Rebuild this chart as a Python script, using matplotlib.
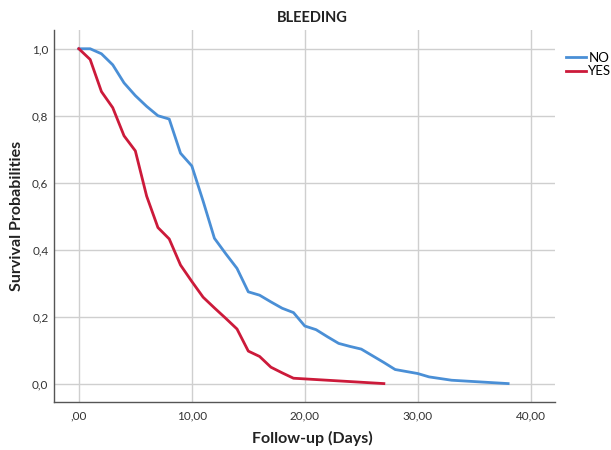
import matplotlib
matplotlib.use("Agg")
import matplotlib.pyplot as plt
from matplotlib.ticker import FixedLocator, FixedFormatter

# Data
no_days = [0, 1, 2, 3, 4, 5, 6, 7, 8, 9, 10, 11, 12, 13, 14, 15, 16, 17, 18, 19,
           20, 21, 22, 23, 24, 25, 26, 27, 28, 29, 30, 31, 32, 33, 38]
no_surv = [1.0, 1.0, 0.985, 0.952, 0.898, 0.860, 0.828, 0.800, 0.790, 0.688,
           0.650, 0.545, 0.434, 0.388, 0.344, 0.274, 0.264, 0.244, 0.225, 0.212,
           0.172, 0.161, 0.140, 0.120, 0.111, 0.103, 0.083, 0.063, 0.042, 0.036,
           0.030, 0.020, 0.015, 0.010, 0.0]
yes_days = [0, 1, 2, 3, 4, 5, 6, 7, 8, 9, 10, 11, 12, 13, 14, 15, 16, 17, 18, 19, 27]
yes_surv = [1.0, 0.968, 0.872, 0.824, 0.740, 0.695, 0.560, 0.466, 0.432, 0.354,
            0.305, 0.258, 0.226, 0.195, 0.163, 0.097, 0.081, 0.049, 0.032, 0.016, 0.0]

x_ticks = [0, 10, 20, 30, 40]
x_tick_labels = [",00", "10,00", "20,00", "30,00", "40,00"]
y_ticks = [0.0, 0.2, 0.4, 0.6, 0.8, 1.0]
y_tick_labels = ["0,0", "0,2", "0,4", "0,6", "0,8", "1,0"]
series_names = ["NO", "YES"]

FONT = ["Lato", "DejaVu Sans"]
plt.rcParams["font.family"] = FONT

fig = plt.figure(figsize=(6.11, 4.5), dpi=100)
ax = fig.add_axes([54 / 611, 1 - 402 / 450, (555 - 54) / 611, (402 - 30) / 450])

blue = "#4a8fd6"
red = "#cc1a3a"
ax.plot(no_days, no_surv, color=blue, lw=2.0, label=series_names[0], solid_joinstyle="round")
ax.plot(yes_days, yes_surv, color=red, lw=2.0, label=series_names[1], solid_joinstyle="round")

ax.set_xlim(-2.2, 42.15)
ax.set_ylim(-0.055, 1.056)
ax.xaxis.set_major_locator(FixedLocator(x_ticks))
ax.xaxis.set_major_formatter(FixedFormatter(x_tick_labels))
ax.yaxis.set_major_locator(FixedLocator(y_ticks))
ax.yaxis.set_major_formatter(FixedFormatter(y_tick_labels))
ax.tick_params(axis="both", length=0, labelsize=8.5, colors="#333333")
ax.tick_params(axis="y", pad=4)
ax.tick_params(axis="x", pad=6)
ax.grid(True, color="#cfcfcf", lw=1.0)
ax.set_axisbelow(True)
for s in ["top", "right"]:
    ax.spines[s].set_visible(False)
for s in ["left", "bottom"]:
    ax.spines[s].set_color("#555555")
    ax.spines[s].set_linewidth(1.0)

fig.text(312 / 611, 1 - 438 / 450, "Follow-up (Days)", ha="center", va="center",
         fontsize=11.5, fontweight="bold", color="#222222")
fig.text(17 / 611, 1 - 216 / 450, "Survival Probabilities", ha="center", va="center",
         rotation=90, fontsize=11.5, fontweight="bold", color="#222222")
fig.text(312 / 611, 1 - 18 / 450, "BLEEDING", ha="center", va="center",
         fontsize=10.5, fontweight="bold", color="#222222")

leg = ax.legend(loc="upper left", bbox_to_anchor=(566 / 611, 1 - 52 / 450),
                bbox_transform=fig.transFigure, frameon=False, fontsize=9.5,
                handlelength=1.5, handletextpad=0.2, labelspacing=0.1,
                borderaxespad=0, borderpad=0)

fig.savefig("out.png", dpi=100)
